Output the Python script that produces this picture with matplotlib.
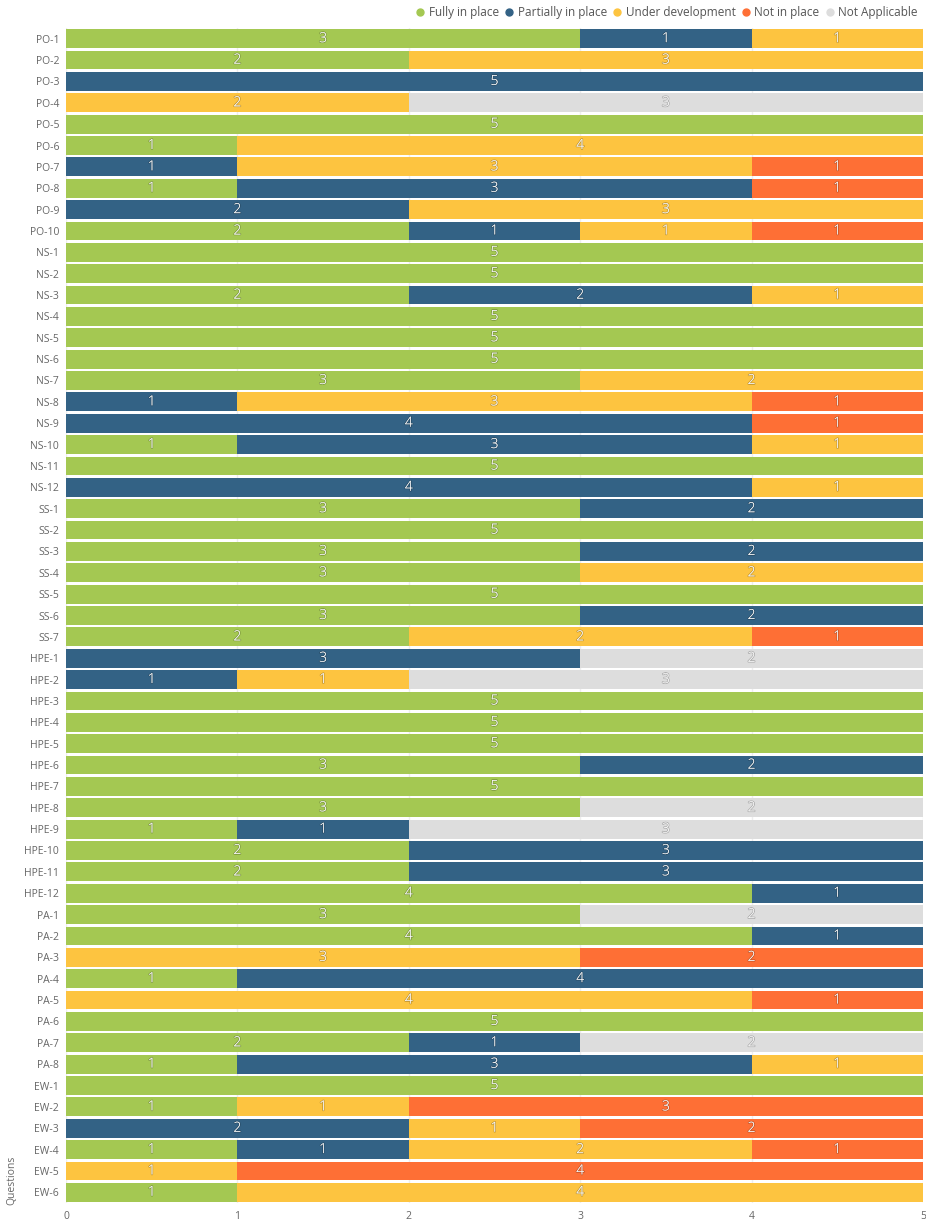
import matplotlib
matplotlib.use("Agg")
import matplotlib.pyplot as plt
import matplotlib.patheffects as pe
from matplotlib.lines import Line2D
import numpy as np

plt.rcParams['font.family'] = ['Open Sans', 'DejaVu Sans']

questions = ["PO-1", "PO-2", "PO-3", "PO-4", "PO-5", "PO-6", "PO-7", "PO-8", "PO-9", "PO-10",
             "NS-1", "NS-2", "NS-3", "NS-4", "NS-5", "NS-6", "NS-7", "NS-8", "NS-9", "NS-10", "NS-11", "NS-12",
             "SS-1", "SS-2", "SS-3", "SS-4", "SS-5", "SS-6", "SS-7",
             "HPE-1", "HPE-2", "HPE-3", "HPE-4", "HPE-5", "HPE-6", "HPE-7", "HPE-8", "HPE-9", "HPE-10",
             "HPE-11", "HPE-12",
             "PA-1", "PA-2", "PA-3", "PA-4", "PA-5", "PA-6", "PA-7", "PA-8",
             "EW-1", "EW-2", "EW-3", "EW-4", "EW-5", "EW-6"]

categories = ["Fully in place", "Partially in place", "Under development", "Not in place", "Not Applicable"]
colors = ["#a4c852", "#336285", "#fdc440", "#fe6f35", "#dddddd"]

fully = [3, 2, 0, 0, 5, 1, 0, 1, 0, 2,
         5, 5, 2, 5, 5, 5, 3, 0, 0, 1, 5, 0,
         3, 5, 3, 3, 5, 3, 2,
         0, 0, 5, 5, 5, 3, 5, 3, 1, 2, 2, 4,
         3, 4, 0, 1, 0, 5, 2, 1,
         5, 1, 0, 1, 0, 1]
partially = [1, 0, 5, 0, 0, 0, 1, 3, 2, 1,
             0, 0, 2, 0, 0, 0, 0, 1, 4, 3, 0, 4,
             2, 0, 2, 0, 0, 2, 0,
             3, 1, 0, 0, 0, 2, 0, 0, 1, 3, 3, 1,
             0, 1, 0, 4, 0, 0, 1, 3,
             0, 0, 2, 1, 0, 0]
under_dev = [1, 3, 0, 2, 0, 4, 3, 0, 3, 1,
             0, 0, 1, 0, 0, 0, 2, 3, 0, 1, 0, 1,
             0, 0, 0, 2, 0, 0, 2,
             0, 1, 0, 0, 0, 0, 0, 0, 0, 0, 0, 0,
             0, 0, 3, 0, 4, 0, 0, 1,
             0, 1, 1, 2, 1, 4]
not_in_place = [0, 0, 0, 0, 0, 0, 1, 1, 0, 1,
                0, 0, 0, 0, 0, 0, 0, 1, 1, 0, 0, 0,
                0, 0, 0, 0, 0, 0, 1,
                0, 0, 0, 0, 0, 0, 0, 0, 0, 0, 0, 0,
                0, 0, 2, 0, 1, 0, 0, 0,
                0, 3, 2, 1, 4, 0]
not_applicable = [0, 0, 0, 3, 0, 0, 0, 0, 0, 0,
                  0, 0, 0, 0, 0, 0, 0, 0, 0, 0, 0, 0,
                  0, 0, 0, 0, 0, 0, 0,
                  2, 3, 0, 0, 0, 0, 0, 2, 3, 0, 0, 0,
                  2, 0, 0, 0, 0, 0, 2, 0,
                  0, 0, 0, 0, 0, 0]

series = [fully, partially, under_dev, not_in_place, not_applicable]

fig = plt.figure(figsize=(9.26, 12.24), dpi=100)
ax = fig.add_axes([66 / 926, 1 - 1203 / 1224, (923 - 66) / 926, (1203 - 28) / 1224])

y = np.arange(len(questions))
left = np.zeros(len(questions))
shadow = [pe.withStroke(linewidth=1.2, foreground=(0, 0, 0, 0.2))]
for vals, col in zip(series, colors):
    vals = np.array(vals)
    ax.barh(y, vals, left=left, height=0.88, color=col, zorder=2)
    for yi, (l, v) in enumerate(zip(left, vals)):
        if v > 0:
            ax.text(l + v / 2, yi, str(v), ha="center", va="center", color="white",
                    fontsize=10, fontweight="light", zorder=3, path_effects=shadow)
    left += vals

ax.set_xlim(0, 5)
ax.set_ylim(len(questions) - 0.5, -0.5)
ax.set_yticks(y)
ax.set_yticklabels(questions)
ax.set_xticks(range(6))
ax.tick_params(axis="both", length=0, labelsize=7.5, colors="#666666")
ax.tick_params(axis="y", pad=5)
ax.tick_params(axis="x", pad=6)
ax.grid(axis="x", color="#eeeeee", linewidth=1, zorder=0)
for s in ax.spines.values():
    s.set_visible(False)

fig.text(12 / 926, 1 - 1180 / 1224, "Questions", rotation=90, ha="center", va="center",
         fontsize=7.5, color="#666666")

handles = [Line2D([], [], marker="o", linestyle="", markersize=5, color=c) for c in colors]
fig.legend(handles, categories, loc="upper right", bbox_to_anchor=(918 / 926, 1 - 6 / 1224),
           ncol=5, frameon=False, fontsize=8.5, labelcolor="#555555", handlelength=0.5,
           handletextpad=0.5, columnspacing=0.6, borderaxespad=0, borderpad=0)

fig.savefig("out.png", dpi=100)
